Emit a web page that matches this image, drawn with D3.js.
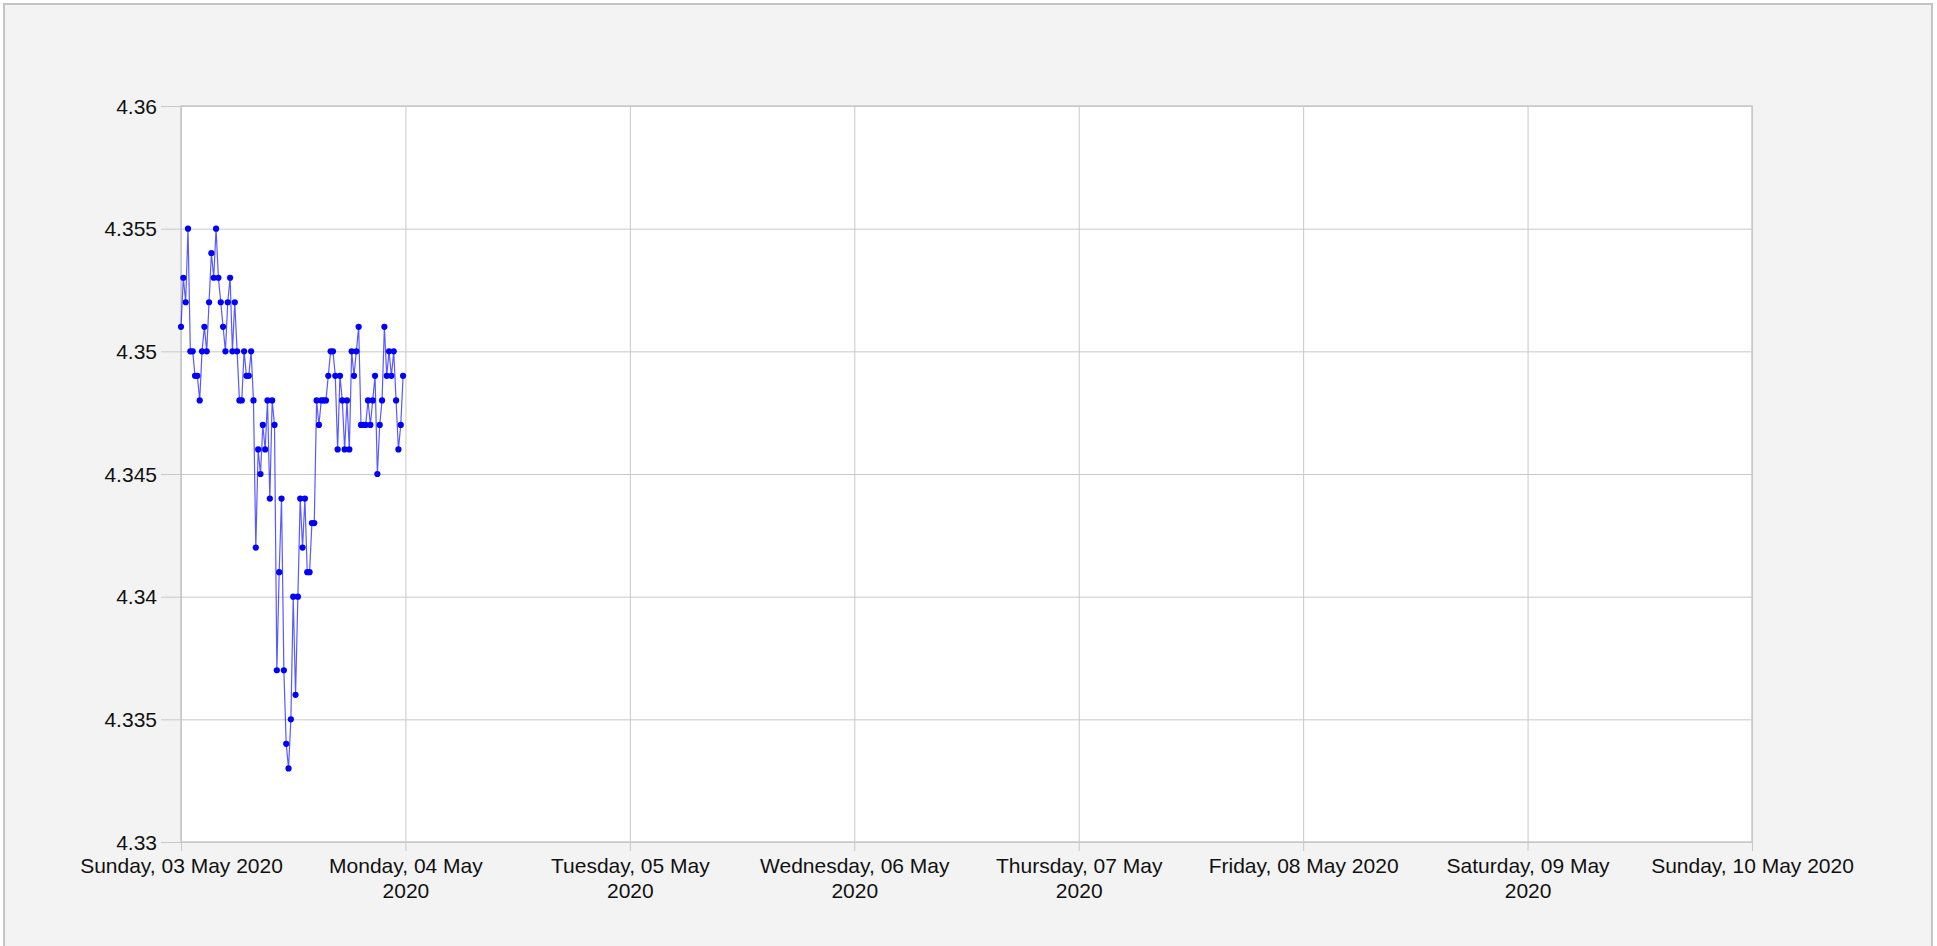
<!DOCTYPE html>
<html>
<head>
<meta charset="utf-8">
<script src="https://cdn.jsdelivr.net/npm/d3@7"></script>
<style>
  body { margin: 0; background: #ffffff; }
  svg { display: block; }
</style>
</head>
<body>
<div id="chart"></div>
<script>
"use strict";

// readings every 15 minutes, starting Sunday 03 May 2020 00:00
const startTime = new Date(2020, 4, 3, 0, 0);
const stepMinutes = 15;
const values = [
  4.351, 4.353, 4.352, 4.355, 4.350, 4.350, 4.349, 4.349, 4.348, 4.350,
  4.351, 4.350, 4.352, 4.354, 4.353, 4.355, 4.353, 4.352, 4.351, 4.350,
  4.352, 4.353, 4.350, 4.352, 4.350, 4.348, 4.348, 4.350, 4.349, 4.349,
  4.350, 4.348, 4.342, 4.346, 4.345, 4.347, 4.346, 4.348, 4.344, 4.348,
  4.347, 4.337, 4.341, 4.344, 4.337, 4.334, 4.333, 4.335, 4.340, 4.336,
  4.340, 4.344, 4.342, 4.344, 4.341, 4.341, 4.343, 4.343, 4.348, 4.347,
  4.348, 4.348, 4.348, 4.349, 4.350, 4.350, 4.349, 4.346, 4.349, 4.348,
  4.346, 4.348, 4.346, 4.350, 4.349, 4.350, 4.351, 4.347, 4.347, 4.347,
  4.348, 4.347, 4.348, 4.349, 4.345, 4.347, 4.348, 4.351, 4.349, 4.350,
  4.349, 4.350, 4.348, 4.346, 4.347, 4.349
];

const xDomain = [new Date(2020, 4, 3), new Date(2020, 4, 10)];
const yTicks = [4.33, 4.335, 4.34, 4.345, 4.35, 4.355, 4.36];
const xTickLabels = [
  ["Sunday, 03 May 2020"],
  ["Monday, 04 May", "2020"],
  ["Tuesday, 05 May", "2020"],
  ["Wednesday, 06 May", "2020"],
  ["Thursday, 07 May", "2020"],
  ["Friday, 08 May 2020"],
  ["Saturday, 09 May", "2020"],
  ["Sunday, 10 May 2020"]
];

const W = 1937;
const H = 946;
const margin = { top: 106, right: 185, bottom: 104, left: 181 };
const width = W - margin.left - margin.right;
const height = H - margin.top - margin.bottom;

const fontFamily = "Arial, 'Liberation Sans', sans-serif";
const fontSize = "21px";
const gridColor = "#c8c8c8";

const data = values.map((v, i) => ({
  t: new Date(startTime.getTime() + i * stepMinutes * 60000),
  v: v
}));

const root = d3
  .select("#chart")
  .append("svg")
  .attr("width", W)
  .attr("height", H);

// outer panel
root
  .append("rect")
  .attr("x", 4)
  .attr("y", 4)
  .attr("width", 1928)
  .attr("height", H + 10)
  .attr("fill", "#f3f3f3")
  .attr("stroke", "#c4c4c4")
  .attr("stroke-width", 2);

const svg = root
  .append("g")
  .attr("transform", `translate(${margin.left},${margin.top})`);

const x = d3.scaleTime().domain(xDomain).range([0, width]);
const y = d3
  .scaleLinear()
  .domain([yTicks[0], yTicks[yTicks.length - 1]])
  .range([height, 0]);

// plot background
svg
  .append("rect")
  .attr("width", width)
  .attr("height", height)
  .attr("fill", "#ffffff");

// vertical grid + x labels
const xAxis = svg
  .append("g")
  .call(
    d3
      .axisBottom(x)
      .ticks(d3.timeDay.every(1))
      .tickSize(height + 9)
      .tickSizeOuter(0)
      .tickFormat("")
  );
xAxis.select(".domain").remove();
xAxis.selectAll(".tick line").attr("stroke", gridColor);
xAxis.selectAll(".tick text").remove();
xAxis
  .selectAll(".tick")
  .append("text")
  .attr("fill", "#111111")
  .attr("font-family", fontFamily)
  .attr("font-size", fontSize)
  .attr("text-anchor", "middle")
  .each(function (d, i) {
    const lines = xTickLabels[i] || [];
    const t = d3.select(this);
    lines.forEach((line, j) => {
      t.append("tspan")
        .attr("x", 0)
        .attr("y", height + 31 + j * 24.6)
        .text(line);
    });
  });

// horizontal grid + y labels
const yAxis = svg
  .append("g")
  .attr("transform", `translate(${width},0)`)
  .call(
    d3
      .axisLeft(y)
      .tickValues(yTicks)
      .tickSize(width + 20)
      .tickPadding(4)
      .tickFormat(d3.format(".3~f"))
  );
yAxis.select(".domain").remove();
yAxis.selectAll(".tick line").attr("stroke", gridColor);
yAxis
  .selectAll(".tick text")
  .attr("fill", "#111111")
  .attr("font-family", fontFamily)
  .attr("font-size", fontSize)
  .attr("dy", "0.34em");

// plot border
svg
  .append("rect")
  .attr("width", width)
  .attr("height", height)
  .attr("fill", "none")
  .attr("stroke", gridColor)
  .attr("stroke-width", 1.5);

// series line
const valueline = d3
  .line()
  .x(function (d) {
    return x(d.t);
  })
  .y(function (d) {
    return y(d.v);
  });

svg
  .append("path")
  .data([data])
  .attr("d", valueline)
  .attr("fill", "none")
  .attr("stroke", "#0000ff")
  .attr("stroke-opacity", 0.65)
  .attr("stroke-width", 1.2);

svg
  .selectAll(".point")
  .data(data)
  .enter()
  .append("circle")
  .attr("class", "point")
  .attr("cx", function (d) {
    return x(d.t);
  })
  .attr("cy", function (d) {
    return y(d.v);
  })
  .attr("r", 3.1)
  .attr("fill", "#0000ff");
</script>
</body>
</html>
